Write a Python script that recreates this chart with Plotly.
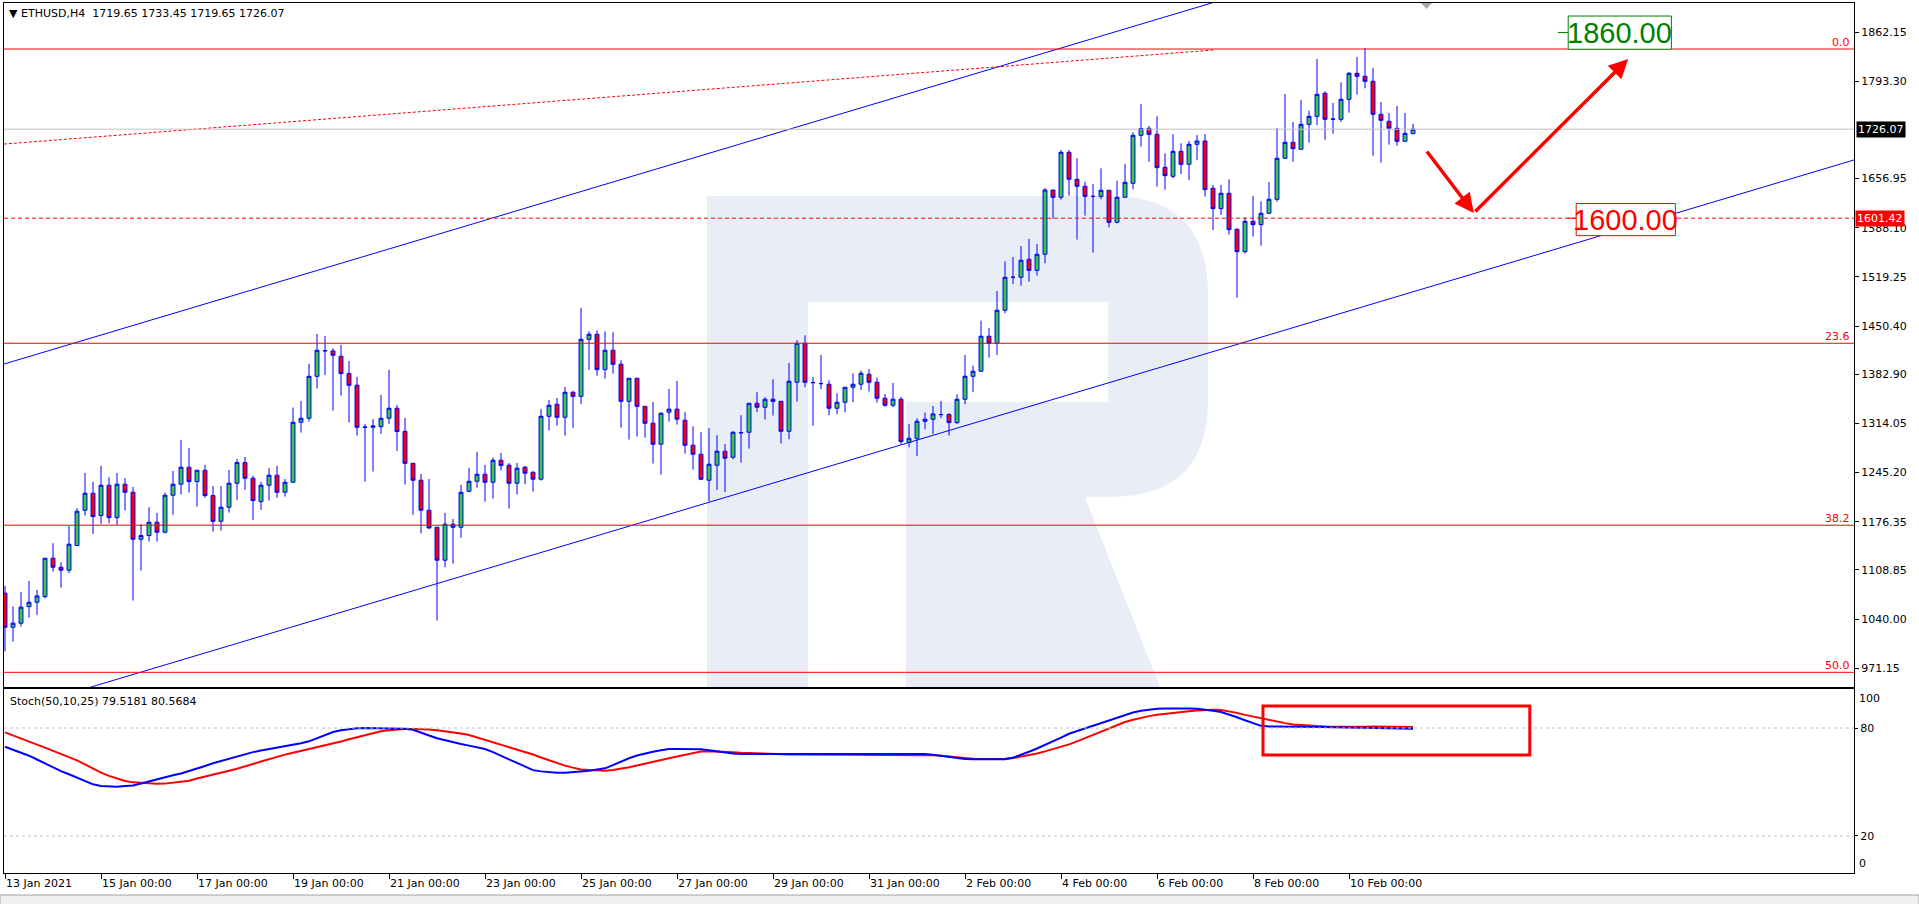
import plotly.graph_objects as go
import pandas as pd

# ---------------- data ----------------
START = "2021-01-13 00:00"
BAR_HOURS = 4

OPEN = [1076.3, 1028.6, 1034.3, 1057.6, 1063.7, 1071.6, 1125.3, 1112.7, 1108.5, 1143.0,
        1192.5, 1216.3, 1185.0, 1227.5, 1182.2, 1228.9, 1217.7, 1151.9, 1157.0, 1175.7,
        1161.7, 1213.5, 1228.9, 1252.7, 1232.6, 1248.5, 1213.0, 1177.0, 1196.7, 1230.3,
        1259.2, 1237.3, 1204.6, 1227.5, 1241.5, 1217.7, 1231.7, 1315.7, 1321.3, 1380.0,
        1415.5, 1415.5, 1408.0, 1383.8, 1367.5, 1309.0, 1308.7, 1309.6, 1321.3, 1335.3,
        1303.0, 1258.2, 1234.5, 1192.5, 1168.7, 1122.5, 1172.9, 1168.7, 1219.0, 1233.0,
        1242.9, 1231.7, 1262.5, 1255.5, 1230.3, 1252.7, 1245.7, 1236.0, 1324.0, 1340.9,
        1322.7, 1357.7, 1352.0, 1431.9, 1438.9, 1389.4, 1416.5, 1396.9, 1345.0, 1377.3,
        1338.0, 1314.3, 1284.9, 1329.7, 1334.0, 1318.5, 1283.5, 1270.9, 1234.5, 1255.5,
        1275.1, 1266.7, 1300.7, 1301.7, 1342.3, 1336.7, 1347.9, 1345.0, 1303.1, 1371.7,
        1426.3, 1371.2, 1369.8, 1368.9, 1335.3, 1343.7, 1364.7, 1368.9, 1382.9, 1371.7,
        1349.3, 1339.5, 1347.9, 1287.6, 1293.2, 1317.0, 1319.9, 1326.3, 1326.4, 1315.2,
        1347.9, 1380.1, 1387.1, 1436.1, 1426.3, 1472.5, 1518.7, 1518.7, 1543.9, 1528.4,
        1550.9, 1640.9, 1630.7, 1693.7, 1655.9, 1646.1, 1632.0, 1632.0, 1640.5, 1595.7,
        1630.7, 1650.3, 1717.5, 1727.3, 1718.9, 1672.7, 1660.1, 1695.1, 1676.9, 1704.9,
        1709.5, 1643.3, 1614.8, 1636.3, 1585.9, 1554.6, 1597.1, 1592.4, 1608.3, 1627.9,
        1685.3, 1707.7, 1697.9, 1732.9, 1744.1, 1776.3, 1739.9, 1739.9, 1767.9, 1804.3,
        1800.1, 1793.1, 1746.9, 1737.1, 1727.3, 1709.1, 1719.65]
HIGH = [1086.5, 1057.6, 1078.1, 1093.5, 1081.0, 1125.3, 1146.3, 1119.7, 1170.5, 1195.3,
        1244.7, 1232.2, 1254.6, 1238.7, 1244.7, 1237.7, 1225.1, 1173.4, 1196.7, 1188.7,
        1217.2, 1247.5, 1291.0, 1279.7, 1248.5, 1256.0, 1226.5, 1226.5, 1249.0, 1264.3,
        1267.0, 1240.5, 1232.2, 1251.3, 1254.6, 1236.3, 1336.2, 1345.5, 1397.4, 1439.4,
        1436.5, 1419.3, 1424.0, 1401.5, 1379.2, 1313.0, 1320.0, 1354.0, 1389.0, 1340.0,
        1321.7, 1258.2, 1243.3, 1236.3, 1168.7, 1188.7, 1180.3, 1228.0, 1251.7, 1274.1,
        1255.9, 1266.2, 1272.7, 1258.7, 1258.7, 1254.5, 1247.0, 1334.3, 1347.0, 1349.8,
        1365.1, 1359.5, 1475.7, 1443.0, 1444.5, 1443.0, 1441.6, 1402.5, 1377.3, 1377.3,
        1338.0, 1344.0, 1329.7, 1362.3, 1373.5, 1329.7, 1310.0, 1301.7, 1307.3, 1297.5,
        1284.9, 1303.1, 1325.5, 1342.3, 1357.7, 1350.7, 1375.9, 1345.0, 1398.7, 1430.5,
        1437.5, 1378.7, 1410.0, 1374.5, 1356.3, 1364.7, 1384.3, 1388.0, 1390.3, 1378.2,
        1355.3, 1370.7, 1351.1, 1313.3, 1321.3, 1329.2, 1338.5, 1345.5, 1328.3, 1354.8,
        1409.9, 1395.0, 1458.0, 1447.7, 1499.5, 1541.1, 1547.1, 1562.5, 1572.4, 1565.3,
        1643.7, 1640.9, 1697.0, 1697.0, 1685.3, 1652.6, 1649.3, 1671.3, 1640.5, 1654.0,
        1677.3, 1721.7, 1761.0, 1730.6, 1744.1, 1692.3, 1718.9, 1706.3, 1709.5, 1717.9,
        1719.4, 1647.9, 1647.9, 1655.9, 1587.3, 1602.7, 1632.5, 1625.1, 1652.1, 1727.7,
        1775.3, 1736.1, 1766.9, 1752.0, 1824.4, 1779.1, 1762.7, 1791.7, 1806.2, 1827.2,
        1839.7, 1811.7, 1764.1, 1748.7, 1758.5, 1748.7, 1733.45]
LOW = [995.0, 1008.6, 1029.6, 1042.2, 1046.0, 1068.8, 1106.6, 1084.2, 1104.3, 1143.0,
       1185.0, 1159.3, 1173.4, 1174.3, 1171.9, 1192.0, 1066.0, 1108.0, 1148.6, 1148.6,
       1160.0, 1186.0, 1214.4, 1217.2, 1197.6, 1210.0, 1162.6, 1164.0, 1189.2, 1207.0,
       1221.0, 1179.0, 1193.0, 1206.0, 1210.0, 1211.6, 1230.8, 1301.2, 1316.6, 1362.8,
       1382.0, 1332.0, 1353.0, 1315.2, 1297.0, 1232.6, 1246.6, 1299.3, 1313.3, 1275.5,
       1228.4, 1186.0, 1160.0, 1166.0, 1038.0, 1112.6, 1117.8, 1154.0, 1217.6, 1224.0,
       1204.6, 1208.8, 1248.0, 1194.8, 1214.4, 1228.9, 1218.6, 1234.0, 1304.0, 1311.0,
       1297.0, 1308.0, 1341.4, 1389.0, 1381.0, 1376.8, 1383.8, 1308.2, 1291.4, 1295.6,
       1294.0, 1257.8, 1242.4, 1316.6, 1312.4, 1271.8, 1249.4, 1234.5, 1205.0, 1221.0,
       1217.7, 1263.9, 1259.2, 1278.8, 1329.7, 1319.4, 1325.0, 1285.8, 1291.9, 1344.6,
       1364.7, 1311.0, 1362.0, 1325.5, 1326.9, 1329.7, 1343.7, 1361.0, 1358.6, 1343.2,
       1337.6, 1336.7, 1284.9, 1280.7, 1268.5, 1305.9, 1299.3, 1321.3, 1297.0, 1313.3,
       1340.9, 1358.0, 1387.1, 1406.2, 1409.9, 1468.3, 1509.3, 1507.0, 1512.6, 1521.0,
       1538.3, 1600.8, 1627.4, 1633.0, 1571.4, 1605.0, 1553.2, 1627.9, 1588.7, 1594.3,
       1630.7, 1641.9, 1701.6, 1680.6, 1645.6, 1641.4, 1657.3, 1663.3, 1654.9, 1682.9,
       1631.6, 1584.9, 1605.9, 1578.4, 1490.2, 1551.8, 1575.6, 1563.0, 1607.4, 1624.6,
       1685.3, 1680.6, 1697.9, 1707.2, 1731.9, 1711.4, 1719.8, 1736.1, 1749.2, 1774.4,
       1783.3, 1689.0, 1679.2, 1704.4, 1703.0, 1709.1, 1719.65]
CLOSE = [1028.6, 1034.3, 1056.7, 1063.7, 1072.5, 1125.3, 1112.7, 1108.5, 1144.9, 1191.1,
         1216.3, 1183.6, 1227.5, 1182.2, 1228.9, 1217.7, 1151.9, 1157.0, 1175.7, 1161.7,
         1213.5, 1228.9, 1252.7, 1232.6, 1248.5, 1213.0, 1177.0, 1196.7, 1230.3, 1259.2,
         1237.3, 1206.0, 1227.5, 1241.5, 1217.7, 1231.7, 1315.7, 1321.3, 1380.0, 1416.5,
         1416.0, 1409.5, 1383.8, 1367.5, 1308.7, 1308.7, 1310.5, 1321.3, 1335.3, 1302.6,
         1258.2, 1234.5, 1192.5, 1167.7, 1122.5, 1172.9, 1168.7, 1217.6, 1233.0, 1242.9,
         1231.7, 1262.5, 1255.0, 1230.3, 1251.3, 1244.3, 1236.0, 1324.0, 1339.5, 1322.7,
         1357.7, 1352.0, 1431.9, 1438.9, 1389.4, 1416.5, 1396.9, 1345.0, 1377.3, 1338.0,
         1314.3, 1284.9, 1328.3, 1334.0, 1320.0, 1283.5, 1270.9, 1235.9, 1256.9, 1275.1,
         1265.3, 1301.7, 1301.2, 1342.3, 1336.7, 1347.9, 1345.0, 1303.1, 1373.1, 1426.3,
         1371.7, 1371.2, 1369.8, 1335.3, 1343.7, 1364.7, 1368.9, 1384.3, 1371.7, 1349.3,
         1339.5, 1347.9, 1288.6, 1293.2, 1317.0, 1319.9, 1327.3, 1326.5, 1315.2, 1347.9,
         1380.1, 1387.1, 1436.1, 1426.3, 1472.5, 1518.7, 1518.7, 1542.5, 1528.4, 1550.9,
         1640.9, 1630.7, 1693.7, 1655.9, 1646.1, 1632.0, 1632.0, 1640.5, 1595.7, 1630.7,
         1651.7, 1717.5, 1727.0, 1718.9, 1672.2, 1661.0, 1695.1, 1676.9, 1704.9, 1709.5,
         1641.4, 1614.8, 1636.3, 1585.4, 1554.6, 1597.1, 1592.4, 1608.3, 1627.9, 1685.3,
         1707.7, 1698.8, 1732.9, 1744.1, 1774.9, 1739.9, 1740.2, 1767.9, 1804.3, 1800.1,
         1793.1, 1746.9, 1738.5, 1727.3, 1709.1, 1720.3, 1726.07]

STOCH_MAIN = [69.6, 68.0, 66.3, 64.6, 62.5, 60.2, 58.0, 56.0, 54.3, 52.5,
              50.5, 48.7, 47.8, 47.4, 47.4, 47.8, 48.1, 49.2, 50.4, 51.5,
              52.6, 53.7, 54.7, 56.0, 57.4, 58.9, 60.4, 61.7, 63.0, 64.4,
              65.6, 66.6, 67.5, 68.3, 69.1, 69.8, 70.5, 71.5, 72.6, 74.2,
              76.2, 77.8, 78.8, 79.4, 79.8, 80.0, 80.0, 80.0, 80.0, 80.0,
              79.6, 79.0, 77.6, 75.8, 74.3, 73.1, 72.0, 71.1, 70.2, 69.2,
              68.3, 66.6, 64.4, 62.6, 60.6, 58.5, 56.6, 55.9, 55.4, 55.2,
              55.2, 55.4, 55.7, 56.2, 56.9, 57.6, 59.4, 61.5, 63.2, 64.7,
              65.9, 66.8, 67.6, 68.3, 68.4, 68.4, 68.3, 68.2, 67.7, 67.0,
              66.3, 65.8, 65.6, 65.6, 65.5, 65.5, 65.6, 65.6, 65.5, 65.6,
              65.7, 65.6, 65.5, 65.5, 65.4, 65.4, 65.5, 65.6, 65.6, 65.5,
              65.5, 65.4, 65.3, 65.3, 65.4, 65.5, 65.2, 64.5, 63.8, 63.2,
              62.8, 62.6, 62.5, 62.5, 62.5, 62.6, 63.5, 65.0, 66.8, 68.6,
              70.5, 72.4, 74.6, 76.8, 78.3, 79.7, 81.1, 82.6, 84.2, 85.8,
              87.3, 88.6, 89.6, 90.3, 90.7, 90.8, 90.9, 90.9, 90.8, 90.7,
              90.3, 89.6, 88.9, 87.6, 86.0, 84.3, 82.6, 81.2, 80.8, 80.8,
              80.9, 81.0, 80.9, 80.8, 80.7, 80.6, 80.4, 80.2, 80.0, 80.1,
              80.2, 80.1, 79.9, 79.8, 79.6, 79.5, 79.52]
STOCH_SIGNAL = [77.6, 76.0, 74.2, 72.5, 70.8, 69.1, 67.4, 65.6, 63.8, 62.0,
                59.8, 57.4, 55.2, 53.4, 51.8, 50.6, 49.8, 49.4, 49.1, 49.0,
                49.1, 49.5, 49.9, 50.7, 51.9, 52.9, 53.9, 55.0, 56.2, 57.4,
                58.5, 60.0, 61.4, 62.8, 64.0, 65.2, 66.3, 67.3, 68.3, 69.2,
                70.2, 71.3, 72.5, 73.7, 74.8, 75.9, 77.0, 78.2, 78.8, 79.2,
                79.4, 79.4, 79.4, 79.2, 78.8, 78.3, 77.6, 76.9, 76.1, 74.8,
                73.4, 72.0, 70.8, 69.6, 68.2, 66.7, 65.3, 63.6, 62.0, 60.4,
                59.1, 58.0, 57.0, 56.6, 56.4, 56.3, 56.7, 57.3, 58.2, 59.2,
                60.3, 61.3, 62.3, 63.2, 64.2, 65.2, 66.2, 67.0, 67.1, 67.0,
                66.8, 66.5, 66.2, 66.0, 65.8, 65.6, 65.5, 65.4, 65.3, 65.3,
                65.3, 65.3, 65.2, 65.2, 65.2, 65.1, 65.1, 65.1, 65.1, 65.1,
                65.1, 65.0, 65.0, 65.0, 65.0, 65.0, 64.9, 64.6, 64.1, 63.6,
                63.2, 62.9, 62.8, 62.8, 62.8, 62.9, 63.3, 64.0, 64.8, 65.8,
                67.0, 68.2, 69.4, 70.9, 72.6, 74.4, 76.3, 78.2, 80.0, 81.7,
                83.3, 84.6, 85.7, 86.6, 87.3, 87.9, 88.4, 88.9, 89.3, 89.7,
                90.0, 90.1, 90.0, 89.4, 88.4, 87.3, 86.3, 85.5, 84.6, 83.6,
                82.7, 82.0, 81.6, 81.3, 81.1, 80.9, 80.8, 80.7, 80.6, 80.6,
                80.7, 80.8, 80.8, 80.7, 80.6, 80.6, 80.57]

TICK_DATES = ["2021-01-13", "2021-01-15", "2021-01-17", "2021-01-19", "2021-01-21",
              "2021-01-23", "2021-01-25", "2021-01-27", "2021-01-29", "2021-01-31",
              "2021-02-02", "2021-02-04", "2021-02-06", "2021-02-08", "2021-02-10"]
TICK_TEXT = ["13 Jan 2021", "15 Jan 00:00", "17 Jan 00:00", "19 Jan 00:00", "21 Jan 00:00",
             "23 Jan 00:00", "25 Jan 00:00", "27 Jan 00:00", "29 Jan 00:00", "31 Jan 00:00",
             "2 Feb 00:00", "4 Feb 00:00", "6 Feb 00:00", "8 Feb 00:00", "10 Feb 00:00"]
PRICE_TICKS = [1862.15, 1793.30, 1656.95, 1588.10, 1519.25, 1450.40, 1382.90,
               1314.05, 1245.20, 1176.35, 1108.85, 1040.00, 971.15]
STOCH_TICKS = [80, 20]

FIB_LEVELS = [1838.3, 1426.3, 1171.5, 965.5]
FIB_TEXT = ["0.0", "23.6", "38.2", "50.0"]
BID = 1726.07
LEVEL_LINE = 1601.42
CHANNEL_BARS = [-2, 232]
CHANNEL_UPPER = [1390.9, 2174.6]
CHANNEL_LOWER = [902.2, 1685.9]
TREND_BARS = [-2, 151.1]
TREND_PRICES = [1703.6, 1837.0]
TARGET_UP = 1860.00
TARGET_DOWN = 1600.00
ARROW_BARS = [177.6, 183.6, 202.9]
ARROW_PRICES = [1697.0, 1608.8, 1824.4]
BOX_BARS = [157.25, 190.6]
BOX_STOCH = [92.2, 65.0]

HEADER = "ETHUSD,H4\u00a0\u00a01719.65 1733.45 1719.65 1726.07"
STOCH_LABEL = "Stoch(50,10,25) 79.5181 80.5684"

# ---------------- helpers ----------------
T0 = pd.Timestamp(START)


def t(i):
    return (T0 + pd.Timedelta(hours=BAR_HOURS * i)).strftime("%Y-%m-%d %H:%M:%S")


times = [t(i) for i in range(len(OPEN))]

W, H = 1919, 904
ML, MR, MT, MB = 4, 65, 3, 31
PW, PH = W - ML - MR, H - MT - MB


def px(x, y):
    return ((x - ML) / PW, 1 - (y - MT) / PH)


def path(segments):
    """segments: list of (command, [points]); each command gets its own letter."""
    s = []
    for cmd, pts in segments:
        s.append(cmd + " ".join("%.5f,%.5f" % px(a, b) for a, b in pts))
    return " ".join(s) + " Z"


def poly(points):
    segs = [("M", [points[0]])] + [("L", [p]) for p in points[1:]]
    return path(segs)


FONT = "DejaVu Sans, Verdana, sans-serif"
BLUE = "#0000ff"
RED = "#ff0000"

fig = go.Figure()

fig.add_trace(go.Candlestick(
    x=times, open=OPEN, high=HIGH, low=LOW, close=CLOSE,
    increasing=dict(line=dict(color=BLUE, width=1), fillcolor="#32cd32"),
    decreasing=dict(line=dict(color=BLUE, width=1), fillcolor=RED),
    whiskerwidth=0, xaxis="x", yaxis="y", showlegend=False, hoverinfo="skip"))

fig.add_trace(go.Scatter(x=[t(b) for b in CHANNEL_BARS], y=CHANNEL_UPPER, mode="lines",
                         line=dict(color=BLUE, width=1), xaxis="x", yaxis="y", showlegend=False))
fig.add_trace(go.Scatter(x=[t(b) for b in CHANNEL_BARS], y=CHANNEL_LOWER, mode="lines",
                         line=dict(color=BLUE, width=1), xaxis="x", yaxis="y", showlegend=False))
fig.add_trace(go.Scatter(x=[t(b) for b in TREND_BARS], y=TREND_PRICES, mode="lines",
                         line=dict(color=RED, width=1, dash="3px,2px"), xaxis="x", yaxis="y",
                         showlegend=False))

fig.add_trace(go.Scatter(x=times, y=STOCH_SIGNAL, mode="lines", line=dict(color=RED, width=2),
                         xaxis="x2", yaxis="y2", showlegend=False))
fig.add_trace(go.Scatter(x=times, y=STOCH_MAIN, mode="lines", line=dict(color=BLUE, width=2),
                         xaxis="x2", yaxis="y2", showlegend=False))

shapes = []
# watermark "R"
WM = "#e9eef6"
shapes.append(dict(type="path", xref="paper", yref="paper", layer="below",
                   fillcolor=WM, line=dict(width=0),
                   path=poly([(707, 196), (808, 196), (808, 687), (707, 687)])))
shapes.append(dict(type="path", xref="paper", yref="paper", layer="below",
                   fillcolor=WM, line=dict(width=0),
                   path=path([("M", [(808, 196)]), ("L", [(1110, 196)]),
                              ("Q", [(1208, 196), (1208, 294)]), ("L", [(1208, 400)]),
                              ("Q", [(1208, 497), (1110, 497)]),
                              ("L", [(1085, 497)]), ("L", [(1160, 687)]), ("L", [(906, 687)]),
                              ("L", [(906, 402)]), ("L", [(1108, 402)]),
                              ("L", [(1108, 302)]), ("L", [(808, 302)])])))

# horizontal levels
for lv in FIB_LEVELS:
    shapes.append(dict(type="line", xref="paper", yref="y", x0=0, x1=1, y0=lv, y1=lv,
                       line=dict(color=RED, width=1)))
shapes.append(dict(type="line", xref="paper", yref="y", x0=0, x1=1, y0=BID, y1=BID,
                   line=dict(color="#c0c0c0", width=1)))
shapes.append(dict(type="line", xref="paper", yref="y", x0=0, x1=1, y0=LEVEL_LINE, y1=LEVEL_LINE,
                   line=dict(color=RED, width=1, dash="4px,3px")))
for lv in STOCH_TICKS:
    shapes.append(dict(type="line", xref="paper", yref="y2", x0=0, x1=1, y0=lv, y1=lv,
                       line=dict(color="#c0c0c0", width=1, dash="3px,3px")))

# target label boxes and their anchor ticks
shapes.append(dict(type="rect", xref="x", yref="y", x0=t(195.4), x1=t(208.3),
                   y0=TARGET_UP - 22.0, y1=TARGET_UP + 24.5, line=dict(color="#008000", width=1),
                   fillcolor="white"))
shapes.append(dict(type="line", xref="x", yref="y", x0=t(194.1), x1=t(195.4),
                   y0=TARGET_UP + 1.5, y1=TARGET_UP + 1.5, line=dict(color="#008000", width=1)))
shapes.append(dict(type="rect", xref="x", yref="y", x0=t(196.4), x1=t(208.8),
                   y0=TARGET_DOWN - 23.0, y1=TARGET_DOWN + 22.0, line=dict(color=RED, width=1),
                   fillcolor="white"))
shapes.append(dict(type="line", xref="x", yref="y", x0=t(195.3), x1=t(196.4),
                   y0=TARGET_DOWN + 1.4, y1=TARGET_DOWN + 1.4, line=dict(color=RED, width=1)))

# stochastic highlight box
shapes.append(dict(type="rect", xref="x2", yref="y2", x0=t(BOX_BARS[0]), x1=t(BOX_BARS[1]),
                   y0=BOX_STOCH[1], y1=BOX_STOCH[0], line=dict(color=RED, width=3)))

# chart-shift marker
shapes.append(dict(type="path", xref="paper", yref="paper", fillcolor="#a8a8a8",
                   line=dict(width=0), path=poly([(1421, 3), (1432, 3), (1426.5, 9)])))

# bottom tab strip
shapes.append(dict(type="rect", xref="paper", yref="paper", x0=px(0, 0)[0], x1=px(W, 0)[0],
                   y0=px(0, 905)[1], y1=px(0, 895)[1], fillcolor="#f0f0f0",
                   line=dict(color="#a0a0a0", width=1)))

annotations = []
annotations.append(dict(xref="paper", yref="paper", x=px(7, 0)[0], y=px(0, 14)[1],
                        xanchor="left", yanchor="middle", showarrow=False,
                        text="\u25bc " + HEADER, font=dict(family=FONT, size=11, color="black")))
annotations.append(dict(xref="paper", yref="paper", x=px(8, 0)[0], y=px(0, 701)[1],
                        xanchor="left", yanchor="middle", showarrow=False,
                        text=STOCH_LABEL, font=dict(family=FONT, size=11, color="black")))
for lv, txt in zip(FIB_LEVELS, FIB_TEXT):
    annotations.append(dict(xref="paper", yref="y", x=1, y=lv, xanchor="right", yanchor="bottom",
                            xshift=-2, yshift=-2, showarrow=False, text=txt,
                            font=dict(family=FONT, size=11, color=RED)))
annotations.append(dict(xref="paper", yref="y", x=1, y=BID, xanchor="left", yanchor="middle",
                        xshift=2, showarrow=False, text="%.2f" % BID, bgcolor="black",
                        borderpad=1, font=dict(family=FONT, size=11, color="white")))
annotations.append(dict(xref="paper", yref="y", x=1, y=LEVEL_LINE, xanchor="left", yanchor="middle",
                        xshift=1, showarrow=False, text="%.2f" % LEVEL_LINE, bgcolor=RED,
                        borderpad=1, font=dict(family=FONT, size=11, color="white")))
annotations.append(dict(xref="paper", yref="y2", x=1, y=100, xanchor="left", yanchor="top",
                        xshift=3, yshift=2, showarrow=False, text="100",
                        font=dict(family=FONT, size=11, color="black")))
annotations.append(dict(xref="paper", yref="y2", x=1, y=0, xanchor="left", yanchor="bottom",
                        xshift=3, showarrow=False, text="0",
                        font=dict(family=FONT, size=11, color="black")))
BIG = "Liberation Sans, Arial, sans-serif"
annotations.append(dict(xref="x", yref="y", x=t(201.85), y=TARGET_UP + 1.2, xanchor="center",
                        yanchor="middle", showarrow=False, text="%.2f" % TARGET_UP,
                        font=dict(family=BIG, size=29, color="#008000")))
annotations.append(dict(xref="x", yref="y", x=t(202.6), y=TARGET_DOWN - 0.5, xanchor="center",
                        yanchor="middle", showarrow=False, text="%.2f" % TARGET_DOWN,
                        font=dict(family=BIG, size=29, color=RED)))
# forecast arrows
annotations.append(dict(xref="x", yref="y", axref="x", ayref="y",
                        x=t(ARROW_BARS[1]), y=ARROW_PRICES[1],
                        ax=t(ARROW_BARS[0]), ay=ARROW_PRICES[0], text="", showarrow=True,
                        arrowhead=2, arrowsize=1.1, arrowwidth=3.5, arrowcolor=RED))
annotations.append(dict(xref="x", yref="y", axref="x", ayref="y",
                        x=t(ARROW_BARS[2]), y=ARROW_PRICES[2],
                        ax=t(ARROW_BARS[1]), ay=ARROW_PRICES[1], text="", showarrow=True,
                        arrowhead=2, arrowsize=1.1, arrowwidth=3.5, arrowcolor=RED))

xr = [t(-0.125), t(-0.125 + PW / 8.0)]
MAIN_DOM = [(873 - 687) / PH, 1]
STOCH_DOM = [0, (873 - 689) / PH]

fig.update_layout(
    width=W, height=H, autosize=False,
    margin=dict(l=ML, r=MR, t=MT, b=MB),
    paper_bgcolor="white", plot_bgcolor="white",
    font=dict(family=FONT, size=11, color="black"),
    showlegend=False, hovermode=False,
    xaxis=dict(domain=[0, 1], anchor="y", range=xr, type="date", showticklabels=False,
               ticks="", showgrid=False, zeroline=False, showline=True, mirror=True,
               linecolor="black", linewidth=1, rangeslider=dict(visible=False)),
    xaxis2=dict(domain=[0, 1], anchor="y2", matches="x", type="date", tickmode="array",
                tickvals=TICK_DATES, ticktext=TICK_TEXT, ticks="outside", ticklen=5,
                tickcolor="black", ticklabelposition="outside right", showgrid=False,
                zeroline=False, showline=True, mirror=True, linecolor="black", linewidth=1,
                tickfont=dict(family=FONT, size=11, color="black"),
                rangeslider=dict(visible=False)),
    yaxis=dict(domain=MAIN_DOM, anchor="x", side="right", range=[944.95, 1902.76],
               tickmode="array", tickvals=PRICE_TICKS, ticktext=["%.2f" % v for v in PRICE_TICKS],
               ticks="outside", ticklen=4, tickcolor="black", showgrid=False, zeroline=False,
               showline=True, mirror=True, linecolor="black", linewidth=1,
               tickfont=dict(family=FONT, size=11, color="black")),
    yaxis2=dict(domain=STOCH_DOM, anchor="x2", side="right", range=[-0.56, 101.67],
                tickmode="array", tickvals=STOCH_TICKS, ticktext=[str(v) for v in STOCH_TICKS],
                ticks="outside", ticklen=3, tickcolor="black", showgrid=False, zeroline=False,
                showline=True, mirror=True, linecolor="black", linewidth=1,
                tickfont=dict(family=FONT, size=11, color="black")),
    shapes=shapes, annotations=annotations,
)

fig.write_html("out.html", config={"displayModeBar": False, "staticPlot": True},
               post_script="document.body.style.margin='0';document.body.style.overflow='hidden';")
